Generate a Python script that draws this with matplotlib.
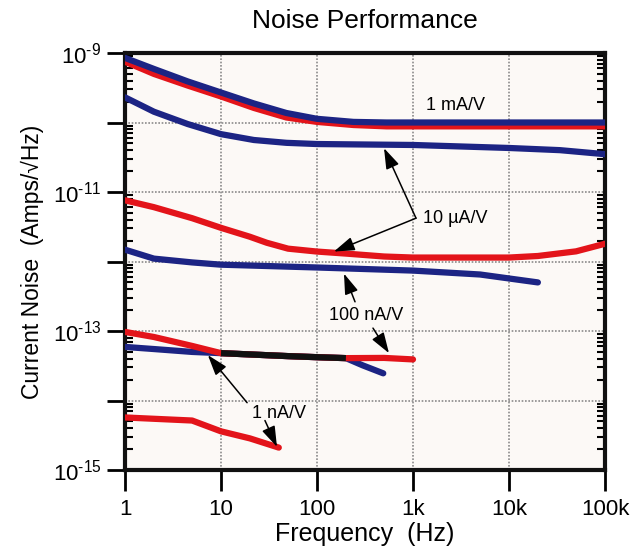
import matplotlib
matplotlib.use("Agg")
import matplotlib.pyplot as plt
from matplotlib.ticker import FixedLocator, FuncFormatter, LogLocator, NullFormatter
import numpy as np

plt.rcParams['font.family'] = ['Liberation Sans', 'DejaVu Sans']
plt.rcParams['mathtext.fontset'] = 'custom'
plt.rcParams['mathtext.rm'] = 'Liberation Sans'
plt.rcParams['mathtext.it'] = 'Liberation Sans'
plt.rcParams['mathtext.default'] = 'regular'

# ---------------- data ----------------
freq_1mA_blue = [1, 2, 4.5, 10, 22, 48, 100, 240, 530, 1000, 10000, 100000]
noise_1mA_blue = [8.5e-10, 5.9e-10, 3.9e-10, 2.7e-10, 1.88e-10, 1.37e-10, 1.13e-10,
                  1.02e-10, 1.0e-10, 1.0e-10, 1.0e-10, 1.0e-10]

freq_1mA_red = [1, 2, 4.5, 10, 22, 48, 100, 240, 530, 1000, 10000, 100000]
noise_1mA_red = [7.5e-10, 5.0e-10, 3.4e-10, 2.37e-10, 1.62e-10, 1.18e-10, 1.02e-10,
                 0.92e-10, 0.88e-10, 0.88e-10, 0.88e-10, 0.88e-10]

freq_10uA_blue = [1, 2, 4.5, 10, 22, 48, 100, 1000, 10000, 34000, 100000]
noise_10uA_blue = [2.3e-10, 1.43e-10, 0.95e-10, 0.68e-10, 0.56e-10, 0.51e-10, 0.49e-10,
                   0.475e-10, 0.43e-10, 0.40e-10, 0.35e-10]

freq_10uA_red = [1, 2, 5, 10, 20, 30, 50, 100, 200, 500, 1000, 10000, 20000, 50000, 100000]
noise_10uA_red = [7.6e-12, 6.05e-12, 4.2e-12, 3.05e-12, 2.27e-12, 1.86e-12, 1.53e-12, 1.39e-12,
                  1.3e-12, 1.18e-12, 1.14e-12, 1.14e-12, 1.2e-12, 1.4e-12, 1.8e-12]

freq_100nA_blue = [1, 2, 5, 10, 100, 1000, 5000, 10000, 20000]
noise_100nA_blue = [1.48e-12, 1.1e-12, 0.97e-12, 0.9e-12, 0.82e-12, 0.74e-12, 0.65e-12,
                    0.57e-12, 0.50e-12]

freq_100nA_red = [1, 2, 5, 10, 20, 50, 100, 200, 500, 1000]
noise_100nA_red = [9.7e-14, 8.2e-14, 6.1e-14, 4.8e-14, 4.6e-14, 4.35e-14, 4.2e-14, 4.07e-14,
                   4.1e-14, 3.9e-14]

freq_1nA_blue = [1, 2, 5, 10, 20, 50, 100, 200, 300, 490]
noise_1nA_blue = [5.9e-14, 5.5e-14, 5.0e-14, 4.8e-14, 4.6e-14, 4.35e-14, 4.2e-14, 4.07e-14,
                  3.2e-14, 2.46e-14]

freq_1nA_red = [1, 5, 10, 20, 40]
noise_1nA_red = [5.7e-15, 5.15e-15, 3.6e-15, 2.85e-15, 2.1e-15]

x_tick_values = [1, 10, 100, 1000, 10000, 100000]
x_tick_labels = ['1', '10', '100', '1k', '10k', '100k']
y_exponents = [-15, -14, -13, -12, -11, -10, -9]
y_labelled_exponents = [-15, -13, -11, -9]

BLUE = '#1c2484'
RED = '#e3141a'

# ---------------- figure ----------------
fig = plt.figure(figsize=(6.36, 5.48), dpi=100)
ax = fig.add_axes([125 / 636, 1 - 470 / 548, 480 / 636, 417 / 548])
ax.set_facecolor('#fcf9f6')
ax.set_xscale('log')
ax.set_yscale('log')
ax.set_xlim(1, 1e5)
ax.set_ylim(1e-15, 1e-9)

lw = 4.5
kw = dict(lw=lw, solid_capstyle='round', solid_joinstyle='round', zorder=3)
ax.plot(freq_1mA_red, noise_1mA_red, color=RED, **kw)
ax.plot(freq_1mA_blue, noise_1mA_blue, color=BLUE, **kw)
ax.plot(freq_10uA_blue, noise_10uA_blue, color=BLUE, **kw)
ax.plot(freq_10uA_red, noise_10uA_red, color=RED, **kw)
ax.plot(freq_100nA_blue, noise_100nA_blue, color=BLUE, **kw)
ax.plot(freq_1nA_blue, noise_1nA_blue, color=BLUE, **kw)
ax.plot(freq_100nA_red, noise_100nA_red, color=RED, **kw)
ax.plot(freq_1nA_red, noise_1nA_red, color=RED, **kw)

# overlapping stretch of the two lines near 10^-13 appears black
fb = np.array(freq_1nA_blue)
nb = np.array(noise_1nA_blue)
mask = (fb >= 10) & (fb <= 200)
ax.plot(fb[mask], nb[mask], color='#111111', lw=lw, solid_capstyle='butt',
        solid_joinstyle='round', zorder=4)

# grid
ax.grid(True, which='major', linestyle=(0, (1, 1)), color='#8a8a8a', lw=1.2, zorder=1)

# ticks
ax.xaxis.set_major_locator(FixedLocator(x_tick_values))
ax.xaxis.set_major_formatter(FuncFormatter(
    lambda v, p: x_tick_labels[x_tick_values.index(int(round(v)))] if int(round(v)) in x_tick_values else ''))
ax.xaxis.set_minor_locator(FixedLocator([]))
ax.tick_params(axis='x', which='major', direction='out', length=15, width=2,
               labelsize=16, pad=6, top=False, bottom=True)

ax.yaxis.set_major_locator(FixedLocator([10.0 ** e for e in y_exponents]))
def yfmt(v, p):
    e = int(round(np.log10(v)))
    if e in y_labelled_exponents:
        return '10$^{\u2010%d}$' % abs(e)
    return ''
ax.yaxis.set_major_formatter(FuncFormatter(yfmt))
ax.yaxis.set_minor_locator(LogLocator(base=10, subs=np.arange(2, 10), numticks=20))
ax.yaxis.set_minor_formatter(NullFormatter())
ax.tick_params(axis='y', which='major', direction='out', length=13, width=2,
               labelsize=16, pad=4, left=True, right=False)
ax.tick_params(axis='y', which='minor', direction='in', length=6, width=1.5,
               left=True, right=True)

for s in ax.spines.values():
    s.set_linewidth(3)
    s.set_color('#111111')

ax.set_xlabel('Frequency  (Hz)', fontsize=18, labelpad=1)
ax.set_ylabel('Current Noise  (Amps/\u221aHz)', fontsize=16.5, labelpad=6)
fig.text((125 + 605) / 2 / 636, 1 - 21 / 548, 'Noise Performance',
         ha='center', va='center', fontsize=19)

# annotations
akw = dict(arrowstyle='-|>,head_length=0.9,head_width=0.3', color='black', lw=1.1,
           shrinkA=0, shrinkB=0, mutation_scale=14)
tfs = 13
ax.text(2800, 1.78e-10, '1 mA/V', fontsize=tfs, ha='center', va='center', zorder=5)

ax.text(1270, 4.1e-12, '10 \u00b5A/V', fontsize=tfs, ha='left', va='center', zorder=5)
ax.annotate('', xy=(499, 4.27e-11), xytext=(1075, 4.2e-12), arrowprops=akw, zorder=5)
ax.annotate('', xy=(150, 1.39e-12), xytext=(1075, 4.2e-12), arrowprops=akw, zorder=5)

ax.text(328, 1.65e-13, '100 nA/V', fontsize=tfs, ha='center', va='center', zorder=5)
ax.annotate('', xy=(191, 6.7e-13), xytext=(249, 2.63e-13), arrowprops=akw, zorder=5)
ax.annotate('', xy=(562, 4.8e-14), xytext=(383, 1.1e-13), arrowprops=akw, zorder=5)

ax.text(40, 6.6e-15, '1 nA/V', fontsize=tfs, ha='center', va='center', zorder=5)
ax.annotate('', xy=(7.3, 4.5e-14), xytext=(18.7, 9.3e-15), arrowprops=akw, zorder=5)
ax.annotate('', xy=(38.3, 2.15e-15), xytext=(28.7, 5.15e-15), arrowprops=akw, zorder=5)

fig.savefig('out.png', dpi=100, facecolor='white')
